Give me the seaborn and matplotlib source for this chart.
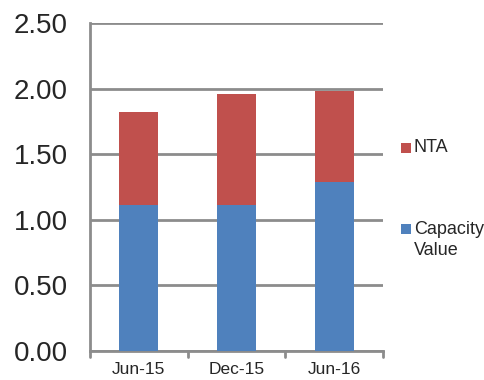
import matplotlib
matplotlib.use("Agg")
import matplotlib.pyplot as plt
import seaborn as sns
import pandas as pd
from matplotlib.patches import Rectangle

periods = ["Jun-15", "Dec-15", "Jun-16"]
capacity_value = [1.11, 1.11, 1.29]
nta = [0.71, 0.85, 0.69]
y_ticks = [0.0, 0.5, 1.0, 1.5, 2.0, 2.5]

BLUE = "#4F81BD"
RED = "#C0504D"
GRID = "#8C8C8C"

sns.set_theme(style="white")
plt.rcParams["font.family"] = ["Liberation Sans", "DejaVu Sans"]

df = pd.DataFrame({"period": periods, "capacity": capacity_value, "nta": nta})
df["total"] = df["capacity"] + df["nta"]

fig = plt.figure(figsize=(4.85, 3.8), dpi=100)
ax = fig.add_axes([0.1856, 0.0771, 0.7897 - 0.1856, 0.9387 - 0.0771])

# stacked bars: total (NTA on top) drawn first, capacity value over it
sns.barplot(data=df, x="period", y="total", color=RED, width=0.4,
            saturation=1, ax=ax, zorder=3, edgecolor="none", linewidth=0)
sns.barplot(data=df, x="period", y="capacity", color=BLUE, width=0.4,
            saturation=1, ax=ax, zorder=4, edgecolor="none", linewidth=0)

ax.set_xlim(-0.5, len(periods) - 0.5)
ax.set_ylim(0, 2.5)
ax.set_yticks(y_ticks)
ax.set_yticklabels([f"{v:.2f}" for v in y_ticks], fontsize=20)
ax.set_xlabel("")
ax.set_ylabel("")
ax.tick_params(axis="x", labelsize=12.5, length=0, pad=8)
ax.tick_params(axis="y", length=8, width=2, color=GRID, pad=8)

ax.yaxis.grid(True, color=GRID, linewidth=2, zorder=1)
ax.set_axisbelow(True)
for side in ["top", "right"]:
    ax.spines[side].set_visible(False)
for side in ["left", "bottom"]:
    ax.spines[side].set_color(GRID)
    ax.spines[side].set_linewidth(2)

# category boundary ticks on the bottom axis
for xb in [-0.5, 0.5, 1.5, 2.5]:
    ax.plot([xb, xb], [0, -0.05], color=GRID, linewidth=2, clip_on=False,
            transform=ax.transData)

# legend entries
W, H = 485, 380
def legend_entry(y_px, color, text):
    fig.patches.append(Rectangle((401 / W, 1 - (y_px + 5) / H), 10 / W, 10 / H,
                                 facecolor=color, edgecolor="none",
                                 transform=fig.transFigure))
    fig.text(414 / W, 1 - y_px / H, text, fontsize=13, va="center",
             ha="left")

legend_entry(148, RED, "NTA")
legend_entry(229, BLUE, "Capacity")
fig.text(414 / W, 1 - 250 / H, "Value", fontsize=13, va="center", ha="left")

fig.savefig("out.png", dpi=100)
